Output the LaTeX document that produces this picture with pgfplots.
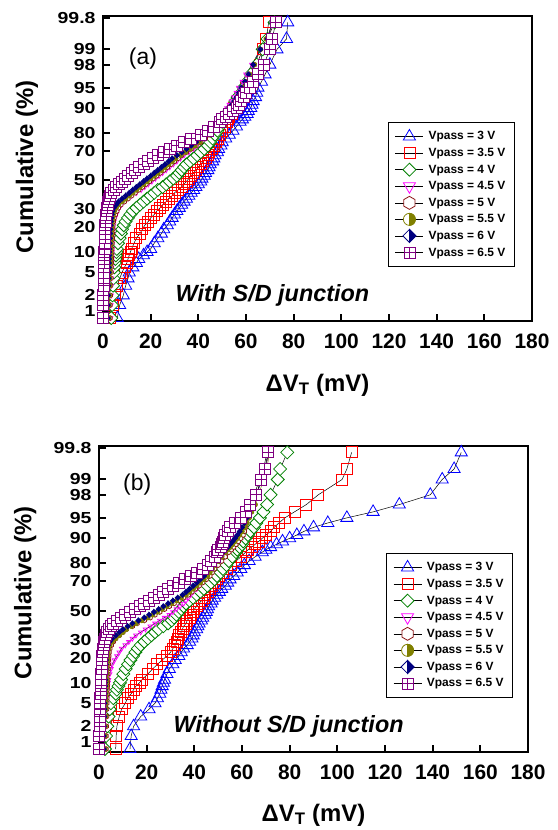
\documentclass[border=0pt]{standalone}
\usepackage{fontspec}
\setmainfont{Liberation Sans}
\newfontfamily\widesans[FakeStretch=1.22]{Liberation Sans}
\usepackage{pgfplots}
\usepackage{pgfplotstable}
\pgfplotsset{compat=1.18}
\usetikzlibrary{plotmarks}

\definecolor{cblue}{RGB}{0,0,255}
\definecolor{cred}{RGB}{255,0,0}
\definecolor{cgreen}{RGB}{0,128,0}
\definecolor{cmag}{RGB}{255,0,255}
\definecolor{cbrown}{RGB}{140,20,20}
\definecolor{colive}{RGB}{128,128,0}
\definecolor{cnavy}{RGB}{0,0,128}
\definecolor{cpurp}{RGB}{128,0,128}

\pgfdeclareplotmark{hexa}{%
  \pgfpathmoveto{\pgfqpointpolar{90}{\pgfplotmarksize}}%
  \pgfpathlineto{\pgfqpointpolar{150}{\pgfplotmarksize}}%
  \pgfpathlineto{\pgfqpointpolar{210}{\pgfplotmarksize}}%
  \pgfpathlineto{\pgfqpointpolar{270}{\pgfplotmarksize}}%
  \pgfpathlineto{\pgfqpointpolar{330}{\pgfplotmarksize}}%
  \pgfpathlineto{\pgfqpointpolar{30}{\pgfplotmarksize}}%
  \pgfpathclose
  \pgfusepathqfillstroke}
\pgfdeclareplotmark{diam}{%
  \pgfpathmoveto{\pgfqpoint{0pt}{\pgfplotmarksize}}%
  \pgfpathlineto{\pgfqpoint{\pgfplotmarksize}{0pt}}%
  \pgfpathlineto{\pgfqpoint{0pt}{-\pgfplotmarksize}}%
  \pgfpathlineto{\pgfqpoint{-\pgfplotmarksize}{0pt}}%
  \pgfpathclose
  \pgfusepathqfillstroke}
\pgfdeclareplotmark{halfdiam}{%
  \pgfpathmoveto{\pgfqpoint{0pt}{\pgfplotmarksize}}%
  \pgfpathlineto{\pgfqpoint{\pgfplotmarksize}{0pt}}%
  \pgfpathlineto{\pgfqpoint{0pt}{-\pgfplotmarksize}}%
  \pgfpathlineto{\pgfqpoint{-\pgfplotmarksize}{0pt}}%
  \pgfpathclose
  \pgfusepathqfillstroke
  \pgfpathmoveto{\pgfqpoint{0pt}{\pgfplotmarksize}}%
  \pgfpathlineto{\pgfqpoint{\pgfplotmarksize}{0pt}}%
  \pgfpathlineto{\pgfqpoint{0pt}{-\pgfplotmarksize}}%
  \pgfpathclose
  \pgfsetfillcolor{cnavy}\pgfusepathqfillstroke}
\pgfdeclareplotmark{halfcirc}{%
  \pgfpathcircle{\pgfpointorigin}{\pgfplotmarksize}%
  \pgfusepathqfillstroke
  \pgfpathmoveto{\pgfqpoint{0pt}{\pgfplotmarksize}}%
  \pgfpatharc{90}{-90}{\pgfplotmarksize}%
  \pgfpathclose
  \pgfsetfillcolor{colive}\pgfusepathqfillstroke}
\pgfdeclareplotmark{boxplus}{%
  \pgfpathrectangle{\pgfqpoint{-\pgfplotmarksize}{-\pgfplotmarksize}}{\pgfqpoint{2\pgfplotmarksize}{2\pgfplotmarksize}}%
  \pgfusepathqfillstroke
  \pgfpathmoveto{\pgfqpoint{-\pgfplotmarksize}{0pt}}\pgfpathlineto{\pgfqpoint{\pgfplotmarksize}{0pt}}%
  \pgfpathmoveto{\pgfqpoint{0pt}{-\pgfplotmarksize}}\pgfpathlineto{\pgfqpoint{0pt}{\pgfplotmarksize}}%
  \pgfusepathqstroke}

\pgfplotsset{
  base/.style={black, line width=0.5bp},
  sA/.style={base, mark=triangle, mark size=7bp, mark options={draw=cblue, fill=white, line width=0.8bp, solid}},
  sB/.style={base, mark=square, mark size=5.5bp, mark options={draw=cred, fill=white, line width=0.8bp, solid}},
  sC/.style={base, mark=diam, mark size=6.5bp, mark options={draw=cgreen, fill=white, line width=0.8bp, solid}},
  sD/.style={base, mark=triangle, mark size=2.6bp, mark options={draw=cmag, fill=white, line width=0.8bp, solid, rotate=180}, legend image post style={mark size=7bp}},
  sE/.style={base, draw=cbrown, mark=hexa, mark size=2.4bp, mark options={draw=cbrown, fill=white, line width=0.8bp, solid}, legend image post style={black, mark size=6.5bp}},
  sF/.style={base, draw=colive, mark=halfcirc, mark size=2.2bp, mark options={draw=colive, fill=white, line width=0.8bp, solid}, legend image post style={black, mark size=6bp}},
  sG/.style={base, draw=cnavy, mark=halfdiam, mark size=2.4bp, mark options={draw=cnavy, fill=white, line width=0.8bp, solid}, legend image post style={black, mark size=6.5bp}},
  sH/.style={base, mark=boxplus, mark size=5.5bp, mark options={draw=cpurp, fill=white, line width=0.8bp, solid}},
  panel/.style={
    scale only axis, width=429bp, anchor=south west,
    xmin=0, xmax=180, ymin=-2.51, ymax=2.92, clip=false,
    axis line style={line width=2.5bp},
    tick align=inside, xtick pos=left, ytick pos=left,
    major tick length=7bp, tick style={line width=2bp, black},
    xtick={0,20,40,60,80,100,120,140,160,180},
    xticklabels={0,20,40,60,80,100,120,140,160,180},
    ytick={-2.326,-2.054,-1.645,-1.282,-0.842,-0.524,0,0.524,0.842,1.282,1.645,2.054,2.326,2.878},
    yticklabels={1,2,5,10,20,30,50,70,80,90,95,98,99,99.8},
    xticklabel style={font=\fontsize{21}{24}\selectfont\bfseries, yshift=-9bp},
    yticklabel style={font=\widesans\fontsize{16}{18}\selectfont\bfseries, xshift=-4bp, inner ysep=0bp},
    xlabel={ΔV\textsubscript{T} (mV)},
    ylabel={Cumulative (\%)},
    xlabel style={font=\fontsize{24}{28}\selectfont\bfseries, anchor=center},
    ylabel style={font=\fontsize{24}{28}\selectfont\bfseries, anchor=center},
    legend cell align=left,
    legend image code/.code={\draw[mark repeat=2,mark phase=2] plot coordinates {(0bp,0bp) (14bp,0bp) (28bp,0bp)}; \path (31bp,0bp);},
    legend style={anchor=north west, draw=black, line width=0.6bp, fill=white,
      font=\fontsize{12}{14}\selectfont\bfseries, inner xsep=7bp, inner ysep=7bp,
      row sep=2.8bp, nodes={inner sep=2bp}},
  }
}

\pgfplotstableread{
z b r g m h o n p
-2.457 6 3 3.5 3.2 3 2.5 2 0
-2.226 7 4 3.8 3.3 3 2.5 2 0
-2.054 8.5 5 4 3.4 3.1 2.6 2.1 0.1
-1.881 9.5 6 4.2 3.4 3.2 2.7 2.2 0.2
-1.751 10.5 7 4.4 3.5 3.3 2.8 2.3 0.2
-1.645 11 8 4.6 3.5 3.4 2.9 2.4 0.3
-1.555 12.5 9 4.8 3.6 3.4 2.9 2.4 0.3
-1.476 14 10 5 3.6 3.5 3 2.5 0.4
-1.405 15 10.5 5.2 3.7 3.5 3 2.5 0.4
-1.341 17 11 5.4 3.7 3.6 3.1 2.6 0.5
-1.282 18.5 11.5 5.6 3.8 3.6 3.1 2.6 0.5
-1.227 20 12 5.8 3.8 3.7 3.2 2.7 0.6
-1.126 21.5 13 6.3 3.9 3.8 3.3 2.8 0.7
-1.036 23 14 7 4 3.9 3.4 2.9 0.8
-0.954 24.5 15.5 7.5 4.1 4 3.5 3 0.9
-0.878 25.5 16.5 8 4.2 4.1 3.6 3.1 0.95
-0.806 27 17.5 8.7 4.4 4.2 3.7 3.2 1
-0.739 28 19 9.5 4.6 4.4 3.8 3.3 1.1
-0.674 29 20 10.5 5 4.7 4 3.5 1.2
-0.613 30 21.5 11.5 5.5 5.2 4.3 3.7 1.3
-0.553 31 22.5 12.5 6 5.8 4.7 4 1.5
-0.496 32 24 14 6.8 6.5 5.5 4.5 1.7
-0.440 33 25 15.5 7.7 7.5 6.5 5.5 2
-0.385 34 26.5 17 8.7 9 8 6.5 2.2
-0.332 35 27.5 18.5 10 10.5 9.5 8 2.5
-0.279 36 29 20 12 12 11 9.5 3
-0.228 37 30 21.5 14 13.5 12.5 11 3.5
-0.176 38 31.5 23 16 15 14 12.5 4.5
-0.126 39 33 25 17.5 16.5 15.5 14 5.5
-0.075 40 34 26.5 19 18 17 15.5 6.5
-0.025 41 35 28 20.5 19.5 18.5 17 8
0.025 41.5 36 29.5 22 21 20 18.5 9
0.075 42.5 37 31 23.5 22.5 21.5 20 10.5
0.126 43 38 32 25 24 23 21.5 12
0.176 44 39 33 26.5 25.5 24.5 23 13.5
0.228 44.5 40 34 28 27 26 24.5 15
0.279 45 41 35 29.5 28.5 27.5 26 17
0.332 46 42 36.5 31 30 29 27.5 19
0.385 46.5 43 38 32.5 31.5 30.5 29 21
0.440 47 44 39.5 34 33 32.5 31 23
0.496 48 44.5 41 36 35 34.5 33 25.5
0.553 48.5 45.5 42.5 38 37 36.5 35 28
0.613 49.5 46.5 44 39.5 39 38.5 37 31
0.674 50 47.5 45 41 41 40.5 39 34
0.739 51.5 48 46 42.5 43 42.5 41 37
0.806 53 49 47 44 45 44.5 43 41
0.878 54.5 50 48 45.5 46.5 46 45 44
0.954 56 51 49 47 48 47.5 46.5 46.5
1.036 57.5 52 50 48.5 49.5 49 48 49
1.080 58.5 52.5 51 49 50.5 50 49 50
1.126 59.5 53 52 50 51.5 51 50 51.5
1.175 60.5 54 52.5 50.5 52.5 52 51 53
1.227 61 54.5 53 51.5 53.5 52.5 52 54.5
1.282 62 55 54 52 54.5 53.5 53 56
1.341 62.5 56 55 53 55 54.5 54 57
1.405 63 57 55.5 54 56 55.5 55 58
1.476 64 58 56.5 55 57 56.5 56 59
1.555 64.5 59 58 56 58 57.5 57 60
1.645 65 60 59 57 59 58.5 58 61.5
1.751 66.5 62 60.5 58.5 60 60 59.5 63
1.881 68 64 62 60 61.5 61.5 61 65
2.054 70 66 64.5 62.5 63.5 63.5 63 67.5
2.326 73 67 67 66 66 66 66 70
2.512 77 68.5 69 69 68.5 68.5 69 71
2.807 77.5 69.5 72 71 71.5 71.5 71 72.5
}\tabA

\pgfplotstableread{
z b r g m h o n p
-2.457 13 7 2.5 2.5 3 2.5 2 0
-2.226 13.5 7.2 3 2.7 3 2.5 2 0
-2.054 14.5 7.5 3.5 2.9 3.1 2.6 2.1 0.2
-1.881 17.5 8.5 4 3 3.2 2.7 2.2 0.3
-1.751 21 9.5 4.5 3.1 3.2 2.7 2.2 0.4
-1.645 23.5 11 5 3.2 3.3 2.8 2.3 0.5
-1.555 24.5 12 6 3.3 3.3 2.8 2.3 0.5
-1.476 25.5 13.5 7 3.4 3.4 2.9 2.4 0.6
-1.405 26 14.5 7.5 3.5 3.4 2.9 2.4 0.6
-1.341 26.5 15.5 8.2 3.6 3.5 3 2.5 0.7
-1.282 27 17 8.8 3.8 3.5 3 2.5 0.8
-1.227 27.5 18 9.3 4 3.6 3.1 2.6 0.9
-1.126 28.5 20.5 10.2 4.5 3.7 3.2 2.7 1
-1.036 29.5 22.5 11.2 5 3.8 3.3 2.8 1.1
-0.954 31 24.5 12.2 5.5 3.9 3.4 2.85 1.2
-0.878 32 26.5 13.2 6.5 4 3.5 2.9 1.3
-0.806 33.5 28.5 14.3 7.5 4.1 3.6 3 1.4
-0.739 34.5 30 15.3 8.5 4.3 3.7 3 1.5
-0.674 35.5 31 16.3 9.5 4.6 4 3.3 1.7
-0.613 37 32 17.5 11 5.2 4.5 3.7 1.9
-0.553 38 32.5 19 12.5 6 5.5 4.5 2.1
-0.496 39 33 20.5 14 7 7 5.5 2.4
-0.440 39.5 33.5 22 15.5 8.5 8.5 7 2.8
-0.385 40 34.5 23.5 17.5 10 10 8.5 3.3
-0.332 41 35 25 19.5 11.5 11.5 10 4
-0.279 41.5 35.5 27 21.5 14 13.5 12 5
-0.228 42 36.5 29 23.5 16 15.5 14 6
-0.176 43 37 30.5 25.5 19 18 16.5 7.5
-0.126 43.5 38 31.5 27.5 21.5 20.5 19 9
-0.075 44.5 38.5 32.5 29.5 23.5 22.5 21 11
-0.025 45 39.5 33.5 31 25.5 24.5 23 13
0.025 45.5 40 34.5 32.5 27.5 26.5 25 15
0.075 46 41 35.5 34 29.5 28.5 27 17
0.126 47 42 36.5 35.5 31.5 30.5 29 19
0.176 47.5 43 38 36.5 33.5 32.5 31 21
0.228 48.5 44 39.5 37.5 35.5 34.5 33 23
0.279 49.5 44.5 41 38.5 37.5 36.5 35 25
0.332 50.5 45.5 42.5 39.5 39 38 36.5 27
0.385 51.5 46.5 44 41 40.5 39.5 38 29
0.440 53 47.5 45.5 42 42 41 39.5 31
0.496 54 48.5 47 43 43.5 42.5 41 33.5
0.553 55 49.5 48.5 44 45 44 42.5 36
0.613 56.5 50.5 49.5 45 46.5 45.5 44 38.5
0.674 58 52 51 46 47.5 46.5 45 41
0.739 59.5 53.5 52 47.5 48.5 47.5 46 43.5
0.806 61 55.5 53.5 49 50 48.5 47.5 45.5
0.878 63 57.5 54.5 50.5 51.5 50 49 47
0.954 65.5 59.5 56 52 53 51.5 50.5 48.5
1.036 68.5 61.5 57.5 53.5 54.5 53 52 49.5
1.080 70 62.5 58 54.5 55.5 54 53 50
1.126 72 64 59 55.5 56.5 55 54 51
1.175 74.5 65.5 60 56.5 57.5 56 55 51.5
1.227 77 67 60.5 57 58.5 57 56 52
1.282 80 68.5 61.5 58 59.5 58 57 52.5
1.341 83 70 62.5 58.5 60.5 59 58 53
1.405 86 72 63.5 59.5 61 60 59 54
1.476 90 73.5 65 60 61.5 61 60 55
1.555 96 75.5 66 61 62 62 61 57
1.645 104 78 67.5 61.5 62.5 63 62 59.5
1.751 115 82 69 62.5 63.5 64 63 61.5
1.881 126 87 70.5 63.5 64.5 65.5 64.5 63.5
2.054 139 92 72 65 66 67 66 66
2.326 144 102 75 67.5 68 69 68.5 68
2.512 149 104 76 69 70 70.5 70 69.5
2.807 152 106 79 70.5 71 71.5 71 71
}\tabB

\begin{document}
\begin{tikzpicture}
\path[use as bounding box] (0bp,0bp) rectangle (558bp,-830bp);

\begin{axis}[panel, at={(103bp,-321bp)}, height=305bp,
  xlabel style={at={(axis description cs:0.5,-0.21)}},
  ylabel style={at={(axis description cs:-0.177,0.505)}},
  legend style={at={(0.664,0.652)}}]
\addplot[sA] table[x=b,y=z] {\tabA};
\addplot[sB] table[x=r,y=z] {\tabA};
\addplot[sC] table[x=g,y=z] {\tabA};
\addplot[sD] table[x=m,y=z] {\tabA};
\addplot[sE] table[x=h,y=z] {\tabA};
\addplot[sF] table[x=o,y=z] {\tabA};
\addplot[sG] table[x=n,y=z] {\tabA};
\addplot[sH] table[x=p,y=z] {\tabA};
\legend{Vpass = 3 V,Vpass = 3.5 V,Vpass = 4 V,Vpass = 4.5 V,Vpass = 5 V,Vpass = 5.5 V,Vpass = 6 V,Vpass = 6.5 V}
\node[font=\fontsize{23}{26}\selectfont] at (rel axis cs:0.093,0.862) {(a)};
\node[font=\fontsize{23.5}{27}\selectfont\bfseries\itshape] at (rel axis cs:0.395,0.085) {With S/D junction};
\end{axis}

\begin{axis}[panel, at={(99bp,-752bp)}, height=306bp,
  xlabel style={at={(axis description cs:0.5,-0.206)}},
  ylabel style={at={(axis description cs:-0.172,0.52)}},
  legend style={at={(0.669,0.650)}}]
\addplot[sA] table[x=b,y=z] {\tabB};
\addplot[sB] table[x=r,y=z] {\tabB};
\addplot[sC] table[x=g,y=z] {\tabB};
\addplot[sD] table[x=m,y=z] {\tabB};
\addplot[sE] table[x=h,y=z] {\tabB};
\addplot[sF] table[x=o,y=z] {\tabB};
\addplot[sG] table[x=n,y=z] {\tabB};
\addplot[sH] table[x=p,y=z] {\tabB};
\legend{Vpass = 3 V,Vpass = 3.5 V,Vpass = 4 V,Vpass = 4.5 V,Vpass = 5 V,Vpass = 5.5 V,Vpass = 6 V,Vpass = 6.5 V}
\node[font=\fontsize{23}{26}\selectfont] at (rel axis cs:0.089,0.873) {(b)};
\node[font=\fontsize{23.5}{27}\selectfont\bfseries\itshape] at (rel axis cs:0.442,0.082) {Without S/D junction};
\end{axis}
\end{tikzpicture}
\end{document}
